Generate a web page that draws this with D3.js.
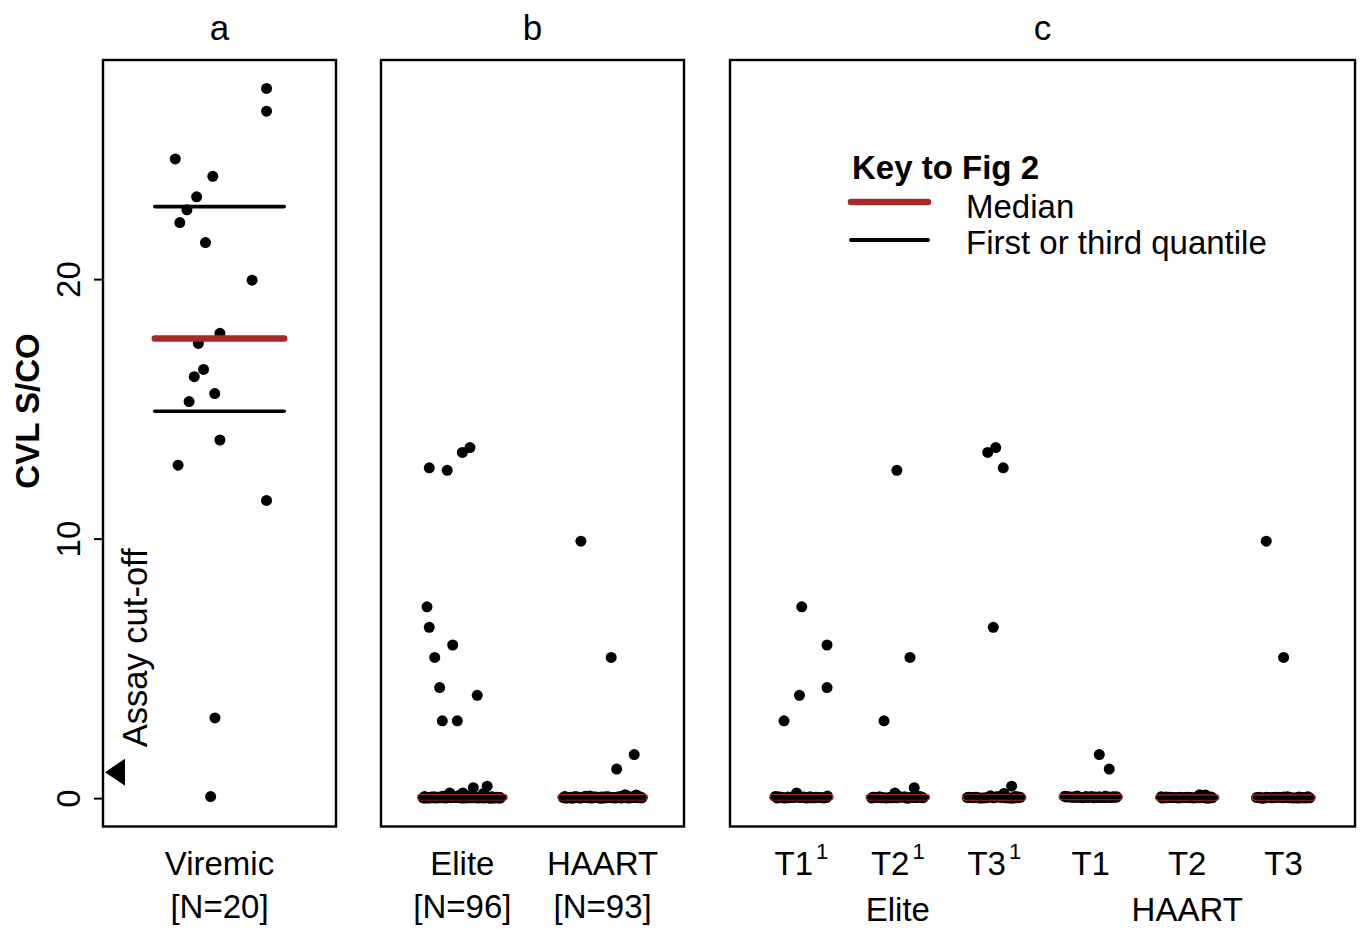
<!DOCTYPE html>
<html><head><meta charset="utf-8">
<script src="https://cdn.jsdelivr.net/npm/d3@7"></script>
<style>body{margin:0;background:#fff}svg{display:block}text{font-family:"Liberation Sans",Arial,Helvetica,sans-serif;fill:#000}</style>
</head><body><svg id="chart" width="1363" height="929"></svg>
<script>
// ---------------- DATA ----------------
const panelTitles = ["a", "b", "c"];
const yTicks = [0, 10, 20];
const assayCutoff = 1;

const viremicVals = [27.35, 26.47, 24.63, 23.96, 23.17, 22.67, 22.18, 21.41, 19.96, 17.91,
  17.52, 16.52, 16.24, 15.59, 15.28, 13.80, 12.83, 11.47, 3.09, 0.06];
const viremicJit = [0.218, 0.218, -0.205, -0.031, -0.106, -0.151, -0.184, -0.065, 0.151, 0.002,
  -0.098, -0.074, -0.117, -0.022, -0.141, 0.002, -0.192, 0.218, -0.021, -0.041];

const eliteT1Vals = [7.37, 5.90, 4.26, 3.96, 2.98, 0.20,
  0.03, 0.01, 0.05, 0.02, 0.00, 0.04, 0.02, 0.06, 0.01, 0.03, 0.00, 0.02, 0.05, 0.01, 0.03, 0.04, 0.00, 0.02, 0.08, 0.01, 0.03, 0.02, 0.00, 0.05, 0.01, 0.03];
const eliteT1JitC = [0.004, 0.266, 0.266, -0.02, -0.18, -0.05,
  -0.21, 0.14, -0.05, 0.26, -0.17, 0.03, 0.19, -0.27, 0.08, -0.11, 0.23, -0.02, -0.24, 0.11, 0.17, -0.14, 0.05, -0.08, 0.27, -0.19, 0.01, 0.21, -0.25, 0.09, -0.13, 0.15];
const eliteT1JitB = [-0.252, -0.069, -0.162, 0.106, -0.143, -0.09,
  0.12, -0.26, 0.18, -0.07, 0.02, -0.22, 0.25, -0.12, 0.07, -0.18, 0.22, -0.01, 0.16, -0.28, 0.10, -0.09, 0.27, -0.15, 0.04, -0.23, 0.13, -0.04, 0.20, -0.20, 0.00, 0.24];

const eliteT2Vals = [12.63, 5.42, 2.98, 0.40, 0.20,
  0.02, 0.04, 0.01, 0.03, 0.00, 0.06, 0.02, 0.01, 0.05, 0.03, 0.00, 0.02, 0.04, 0.01, 0.07, 0.02, 0.03, 0.00, 0.05, 0.01, 0.02, 0.04, 0.00, 0.03, 0.06, 0.01, 0.02];
const eliteT2JitC = [-0.01, 0.126, -0.143, 0.17, -0.03,
  -0.15, 0.22, -0.01, -0.24, 0.09, 0.17, -0.09, 0.26, -0.19, 0.04, -0.27, 0.13, 0.20, -0.06, 0.01, -0.21, 0.25, -0.12, 0.07, -0.17, 0.19, -0.03, 0.11, -0.26, 0.23, -0.08, 0.15];
const eliteT2JitB = [-0.108, -0.197, -0.036, 0.078, 0.004,
  0.06, -0.16, 0.24, -0.03, 0.15, -0.13, 0.09, -0.25, 0.21, 0.01, -0.19, 0.27, -0.08, 0.05, -0.14, 0.17, 0.11, -0.24, -0.02, 0.23, -0.11, 0.08, -0.27, 0.19, 0.03, -0.17, 0.26];

const eliteT3Vals = [13.32, 13.51, 12.73, 6.58, 0.46, 0.18,
  0.01, 0.03, 0.00, 0.02, 0.05, 0.01, 0.04, 0.00, 0.02, 0.03, 0.06, 0.01, 0.00, 0.02, 0.04, 0.01, 0.03, 0.00, 0.05, 0.02, 0.01, 0.09, 0.00, 0.03, 0.02, 0.01];
const eliteT3JitC = [-0.068, 0.015, 0.093, -0.01, 0.18, 0.10,
  0.12, -0.26, 0.18, -0.07, 0.02, -0.22, 0.25, -0.12, 0.07, -0.18, 0.22, -0.01, 0.16, -0.28, 0.10, -0.09, 0.27, -0.15, 0.04, -0.23, 0.13, -0.04, 0.20, -0.20, 0.00, 0.24];
const eliteT3JitB = [0.0, 0.054, -0.236, -0.236, 0.177, 0.15,
  -0.15, 0.22, -0.01, -0.24, 0.09, 0.17, -0.09, 0.26, -0.19, 0.04, -0.27, 0.13, 0.20, -0.06, 0.01, -0.21, 0.25, -0.12, 0.07, -0.17, 0.19, -0.03, 0.11, -0.26, 0.23, -0.08];

const haartT1Vals = [1.68, 1.12,
  0.04, 0.02, 0.06, 0.03, 0.05, 0.01, 0.04, 0.07, 0.02, 0.03, 0.05, 0.04, 0.06, 0.02, 0.03, 0.08, 0.04, 0.01, 0.05, 0.03, 0.06, 0.02, 0.04, 0.05, 0.03, 0.07, 0.02, 0.04, 0.03];
const haartT1JitC = [0.089, 0.192,
  -0.21, 0.14, -0.05, 0.26, -0.17, 0.03, 0.19, -0.27, 0.08, -0.11, 0.23, -0.02, -0.24, 0.11, 0.17, -0.14, 0.05, -0.08, 0.27, -0.19, 0.01, 0.21, -0.25, 0.09, -0.13, 0.15, -0.03, 0.24, -0.16];
const haartT1JitB = [0.225, 0.1,
  0.12, -0.26, 0.18, -0.07, 0.02, -0.22, 0.25, -0.12, 0.07, -0.18, 0.22, -0.01, 0.16, -0.28, 0.10, -0.09, 0.27, -0.15, 0.04, -0.23, 0.13, -0.04, 0.20, -0.20, 0.00, 0.24, -0.10, 0.15, -0.25];

const haartT2Vals = [0.13, 0.12,
  0.02, 0.00, 0.03, 0.01, 0.02, 0.04, 0.00, 0.01, 0.03, 0.02, 0.05, 0.01, 0.00, 0.02, 0.03, 0.01, 0.04, 0.02, 0.00, 0.03, 0.01, 0.02, 0.06, 0.00, 0.01, 0.03, 0.02, 0.04, 0.01];
const haartT2JitC = [0.13, 0.19,
  -0.15, 0.22, -0.01, -0.24, 0.09, 0.17, -0.09, 0.26, -0.19, 0.04, -0.27, 0.13, 0.20, -0.06, 0.01, -0.21, 0.25, -0.12, 0.07, -0.17, 0.19, -0.03, 0.11, -0.26, 0.23, -0.08, 0.15, -0.22, 0.03];
const haartT2JitB = [0.16, 0.24,
  0.06, -0.16, 0.24, -0.03, 0.15, -0.13, 0.09, -0.25, 0.21, 0.01, -0.19, 0.27, -0.08, 0.05, -0.14, 0.17, 0.11, -0.24, -0.02, 0.23, -0.11, 0.08, -0.27, 0.19, 0.03, -0.17, 0.26, -0.05, 0.14];

const haartT3Vals = [9.90, 5.42,
  0.01, 0.03, 0.00, 0.02, 0.01, 0.04, 0.00, 0.02, 0.03, 0.01, 0.00, 0.05, 0.02, 0.01, 0.03, 0.00, 0.02, 0.04, 0.01, 0.00, 0.03, 0.02, 0.01, 0.05, 0.00, 0.02, 0.03, 0.01, 0.02];
const haartT3JitC = [-0.18, 0.0,
  0.06, -0.25, 0.15, -0.10, 0.24, 0.00, -0.20, 0.20, -0.04, 0.13, -0.23, 0.04, -0.15, 0.27, -0.09, 0.10, -0.28, 0.16, -0.01, 0.22, -0.18, 0.07, -0.12, 0.25, -0.22, 0.02, -0.07, 0.18, -0.26];
const haartT3JitB = [-0.155, 0.061,
  0.28, 0.03, -0.22, 0.15, -0.08, 0.23, -0.26, 0.11, -0.03, 0.19, -0.21, 0.25, -0.12, 0.07, -0.17, 0.01, 0.20, -0.06, -0.24, 0.13, -0.19, 0.09, 0.26, -0.09, -0.01, 0.17, 0.04, -0.27, 0.22];

const panelALabels = ["Viremic"];
const panelASubs = ["[N=20]"];
const panelBLabels = ["Elite", "HAART"];
const panelBSubs = ["[N=96]", "[N=93]"];
const panelCLabels = ["T1", "T2", "T3", "T1", "T2", "T3"];
const panelCSups = ["1", "1", "1", "", "", ""];
const panelCGroupNames = ["Elite", "HAART"];
const legendTitle = "Key to Fig 2";
const legendItems = ["Median", "First or third quantile"];

// ---------------- LAYOUT ----------------
const MEDIAN_COLOR = "#A52A2A";
const FONT = 33;
const svg = d3.select("#chart");
const plotTop = 60, plotBottom = 826.5;

const allVals = [].concat(viremicVals, eliteT1Vals, eliteT2Vals, eliteT3Vals, haartT1Vals, haartT2Vals, haartT3Vals);
const ext = d3.extent(allVals);
const pad = 0.04 * (ext[1] - ext[0]);
const y = d3.scaleLinear().domain([ext[0] - pad, ext[1] + pad]).range([plotBottom, plotTop]);

const panels = [
  { x0: 103, x1: 336, title: panelTitles[0],
    groups: [{ vals: viremicVals, jit: viremicJit }] },
  { x0: 381, x1: 684, title: panelTitles[1],
    groups: [
      { vals: [].concat(eliteT1Vals, eliteT2Vals, eliteT3Vals), jit: [].concat(eliteT1JitB, eliteT2JitB, eliteT3JitB) },
      { vals: [].concat(haartT1Vals, haartT2Vals, haartT3Vals), jit: [].concat(haartT1JitB, haartT2JitB, haartT3JitB) }] },
  { x0: 730, x1: 1355, title: panelTitles[2],
    groups: [
      { vals: eliteT1Vals, jit: eliteT1JitC }, { vals: eliteT2Vals, jit: eliteT2JitC }, { vals: eliteT3Vals, jit: eliteT3JitC },
      { vals: haartT1Vals, jit: haartT1JitC }, { vals: haartT2Vals, jit: haartT2JitC }, { vals: haartT3Vals, jit: haartT3JitC }] }
];

panels.forEach(p => {
  const n = p.groups.length;
  p.x = d3.scaleLinear().domain([0.5 - 0.04 * n, n + 0.5 + 0.04 * n]).range([p.x0, p.x1]);
  const g = svg.append("g");
  p.groups.forEach((grp, i) => {
    const pts = grp.vals.map((v, k) => ({ v, j: grp.jit[k], pos: i + 1 }));
    g.selectAll(null).data(pts).enter().append("circle")
      .attr("cx", d => p.x(d.pos + d.j))
      .attr("cy", d => y(d.v))
      .attr("r", 5.5)
      .attr("fill", "#000");
  });
  p.groups.forEach((grp, i) => {
    const s = grp.vals.slice().sort(d3.ascending);
    const q1 = d3.quantile(s, 0.25), med = d3.quantile(s, 0.5), q3 = d3.quantile(s, 0.75);
    const xa = p.x(i + 1 - 0.3), xb = p.x(i + 1 + 0.3);
    g.append("line").attr("x1", xa).attr("x2", xb).attr("y1", y(med)).attr("y2", y(med))
      .attr("stroke", MEDIAN_COLOR).attr("stroke-width", 6.5).attr("stroke-linecap", "round");
    [q1, q3].forEach(q => {
      g.append("line").attr("x1", xa).attr("x2", xb).attr("y1", y(q)).attr("y2", y(q))
        .attr("stroke", "#000").attr("stroke-width", 3.6).attr("stroke-linecap", "round");
    });
  });
  svg.append("rect").attr("x", p.x0).attr("y", plotTop).attr("width", p.x1 - p.x0).attr("height", plotBottom - plotTop)
    .attr("fill", "none").attr("stroke", "#000").attr("stroke-width", 2.4);
  svg.append("text").attr("x", (p.x0 + p.x1) / 2).attr("y", 40).attr("text-anchor", "middle")
    .attr("font-size", 35).text(p.title);
});

// y axis
const yAxis = d3.axisLeft(y).tickValues(yTicks).tickSize(9).tickSizeOuter(0).tickFormat(d3.format("d"));
const ax = svg.append("g").attr("transform", `translate(${panels[0].x0},0)`).call(yAxis);
ax.select(".domain").remove();
ax.selectAll(".tick line").attr("stroke", "#000").attr("stroke-width", 2);
ax.selectAll(".tick text")
  .attr("x", 0).attr("y", -23).attr("dy", 0)
  .attr("transform", "rotate(-90)")
  .attr("text-anchor", "middle")
  .style("font-family", '"Liberation Sans",Arial,sans-serif')
  .attr("font-size", FONT).attr("fill", "#000");

svg.append("text").attr("transform", `translate(39,411) rotate(-90)`)
  .attr("text-anchor", "middle").attr("font-size", FONT).attr("font-weight", "bold").text("CVL S/CO");

// assay cut-off marker
const pa = panels[0];
const yc = y(assayCutoff);
const tri = d3.path();
tri.moveTo(pa.x0 + 2, yc); tri.lineTo(pa.x0 + 22, yc - 13.5); tri.lineTo(pa.x0 + 22, yc + 13.5); tri.closePath();
svg.append("path").attr("d", tri.toString()).attr("fill", "#000");
svg.append("text").attr("transform", `translate(147,${yc - 25}) rotate(-90)`)
  .attr("text-anchor", "start").attr("font-size", 34.5).text("Assay cut-off");

// x labels
function rowLabels(p, labels, yy) {
  labels.forEach((t, i) => {
    svg.append("text").attr("x", p.x(i + 1)).attr("y", yy).attr("text-anchor", "middle")
      .attr("font-size", FONT).text(t);
  });
}
rowLabels(panels[0], panelALabels, 875);
rowLabels(panels[0], panelASubs, 918);
rowLabels(panels[1], panelBLabels, 875);
rowLabels(panels[1], panelBSubs, 918);
const pc = panels[2];
panelCLabels.forEach((t, i) => {
  const tx = svg.append("text").attr("x", pc.x(i + 1)).attr("y", 875).attr("text-anchor", "middle")
    .attr("font-size", FONT);
  tx.append("tspan").text(t);
  if (panelCSups[i]) tx.append("tspan").attr("dx", 3).attr("dy", -16).attr("font-size", 22).text(panelCSups[i]);
});
panelCGroupNames.forEach((t, k) => {
  svg.append("text").attr("x", pc.x(2 + 3 * k)).attr("y", 921).attr("text-anchor", "middle")
    .attr("font-size", FONT).text(t);
});

// legend
const lg = svg.append("g");
lg.append("text").attr("x", 852).attr("y", 179).attr("font-size", FONT).attr("font-weight", "bold").text(legendTitle);
lg.append("line").attr("x1", 851).attr("x2", 928).attr("y1", 202).attr("y2", 202)
  .attr("stroke", MEDIAN_COLOR).attr("stroke-width", 6.5).attr("stroke-linecap", "round");
lg.append("line").attr("x1", 851).attr("x2", 928).attr("y1", 240).attr("y2", 240)
  .attr("stroke", "#000").attr("stroke-width", 4).attr("stroke-linecap", "round");
lg.append("text").attr("x", 966).attr("y", 218).attr("font-size", FONT).text(legendItems[0]);
lg.append("text").attr("x", 966).attr("y", 254).attr("font-size", FONT).text(legendItems[1]);
</script></body></html>
